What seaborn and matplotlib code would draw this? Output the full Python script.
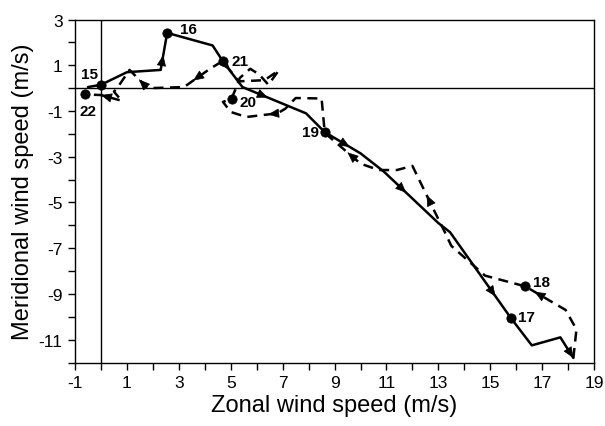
import numpy as np
import pandas as pd
import matplotlib
matplotlib.use("Agg")
import matplotlib.pyplot as plt
import seaborn as sns

# ---- data ----
solid_x = [-0.5, 0.0, 1.0, 2.3, 2.55, 4.3, 4.69, 5.45, 7.9, 8.62, 10.0, 10.9, 13.0, 13.45, 15.79, 16.6, 17.7, 18.2]
solid_y = [0.05, 0.15, 0.7, 0.8, 2.42, 1.87, 1.19, 0.05, -1.1, -1.92, -2.85, -3.65, -5.9, -6.3, -10.05, -11.25, -10.9, -11.8]

dashed_x = [18.2, 18.32, 17.9, 16.35, 14.8, 14.2, 13.5, 13.25, 12.9, 12.0, 11.4, 10.7, 10.0, 8.8, 8.62,
            8.5, 7.5, 7.1, 6.8, 5.6, 5.0, 4.7, 5.03, 5.2, 5.35, 5.75, 6.1, 6.45, 6.85, 6.3, 5.3, 4.69,
            4.2, 3.2, 1.8, 1.45, 1.1, 0.65, 0.5, 0.8, 0.0, -0.62]
dashed_y = [-11.8, -10.55, -9.7, -8.67, -8.2, -7.6, -6.9, -6.3, -5.5, -3.4, -3.58, -3.58, -3.3, -2.13, -1.92,
            -0.45, -0.43, -0.9, -1.1, -1.26, -1.04, -0.6, -0.46, 0.0, 0.45, 0.85, 0.6, 0.15, 0.78, 0.35, 0.3, 1.19,
            0.85, 0.05, 0.0, 0.4, 0.8, 0.05, -0.15, -0.55, -0.3, -0.27]

hour_labels = ["15", "16", "21", "20", "19", "18", "17", "22"]
hour_x = [0.0, 2.55, 4.69, 5.03, 8.62, 16.35, 15.79, -0.62]
hour_y = [0.15, 2.42, 1.19, -0.46, -1.92, -8.67, -10.05, -0.27]
label_offsets = [(-11, 11), (21, 4), (17, 0), (16, -3), (-14, 0), (16, 4), (16, 1), (3, -17)]

# arrows: (segment index, fraction along segment)
solid_arrows = [(3, 0.4), (6, 0.35), (7, 0.4), (9, 0.7), (11, 0.41), (13, 0.75), (16, 1.0)]
dashed_arrows = [(2, 0.77), (8, 0.39), (12, 0.42), (18, 0.3), (32, 0.65), (34, 0.95), (39, 1.0)]

x_major = np.arange(-1, 20, 2)
x_minor = np.arange(0, 19, 2)
y_major = np.arange(-11, 4, 2)
y_minor = np.arange(-12, 3, 2)

# ---- style ----
sns.set_style("ticks")
plt.rcParams["font.family"] = ["Liberation Sans", "DejaVu Sans"]
plt.rcParams["axes.unicode_minus"] = False
for key in ["text.color", "axes.labelcolor", "xtick.color", "ytick.color", "axes.edgecolor"]:
    plt.rcParams[key] = "black"

fig = plt.figure(figsize=(6.05, 4.27), dpi=100)
ax = fig.add_axes([0.124, 0.1487, 0.858, 0.803])

ax.axhline(0, color="k", lw=1.0, zorder=1)
ax.axvline(0, color="k", lw=1.0, zorder=1)

solid_df = pd.DataFrame({"u": solid_x, "v": solid_y})
dashed_df = pd.DataFrame({"u": dashed_x, "v": dashed_y})

sns.lineplot(data=solid_df, x="u", y="v", sort=False, estimator=None,
             color="k", lw=1.8, ax=ax, zorder=3)
sns.lineplot(data=dashed_df, x="u", y="v", sort=False, estimator=None,
             color="k", lw=1.8, ax=ax, zorder=3)
ax.lines[-1].set_dashes([4, 2.6])

def draw_arrows(xs, ys, specs):
    for i, f in specs:
        ax0, ay0, bx, by = xs[i], ys[i], xs[i + 1], ys[i + 1]
        tx = ax0 + f * (bx - ax0)
        ty = ay0 + f * (by - ay0)
        sx = tx - 0.03 * (bx - ax0)
        sy = ty - 0.03 * (by - ay0)
        ax.annotate("", xy=(tx, ty), xytext=(sx, sy),
                    arrowprops=dict(arrowstyle="-|>,head_length=0.7,head_width=0.3",
                                    color="k", lw=0.5, shrinkA=0, shrinkB=0),
                    zorder=4)

draw_arrows(solid_x, solid_y, solid_arrows)
draw_arrows(dashed_x, dashed_y, dashed_arrows)

pts = pd.DataFrame({"u": hour_x, "v": hour_y})
sns.scatterplot(data=pts, x="u", y="v", color="k", s=45, edgecolor="k", ax=ax, zorder=5)

for t, x, y, (dx, dy) in zip(hour_labels, hour_x, hour_y, label_offsets):
    ax.annotate(t, xy=(x, y), xytext=(dx, dy), textcoords="offset pixels",
                ha="center", va="center", fontsize=11, fontweight="bold",
                color="black", zorder=6)

ax.set_xlim(-1, 19)
ax.set_ylim(-12, 3)
ax.set_xticks(x_major)
ax.set_xticks(x_minor, minor=True)
ax.set_yticks(y_major)
ax.set_yticks(y_minor, minor=True)
ax.tick_params(which="both", direction="out", length=5, width=1, color="k", labelcolor="k")
ax.tick_params(which="major", labelsize=12.5, pad=4)

for s in ax.spines.values():
    s.set_visible(True)
    s.set_linewidth(1.0)
    s.set_color("k")

ax.set_xlabel("Zonal wind speed (m/s)", fontsize=17, labelpad=3, color="black")
ax.set_ylabel("Meridional wind speed (m/s)", fontsize=17, labelpad=3, color="black")

fig.savefig("out.png", dpi=100)
